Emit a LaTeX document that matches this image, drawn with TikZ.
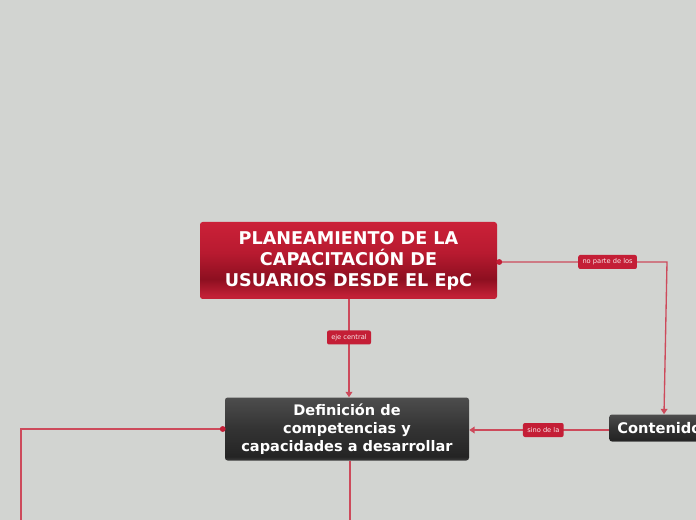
\documentclass[tikz,border=0pt]{standalone}
\usepackage{fontspec}
\setmainfont{DejaVu Sans}
\usetikzlibrary{arrows.meta,positioning,calc}
\definecolor{bg}{HTML}{D2D4D1}
\definecolor{lnk}{HTML}{CD4A5B}
\definecolor{lab}{HTML}{C41E36}
\definecolor{rA}{HTML}{CB2138}
\definecolor{rB}{HTML}{B81A30}
\definecolor{rC}{HTML}{8D0F20}
\definecolor{rD}{HTML}{C22036}
\definecolor{gA}{HTML}{4D4D4D}
\definecolor{gB}{HTML}{333333}
\definecolor{gC}{HTML}{242424}
\definecolor{gD}{HTML}{3C3C3C}
\pgfdeclareverticalshading{mainshade}{100bp}{color(0bp)=(rD); color(25bp)=(rD); color(27bp)=(rD); color(38bp)=(rC); color(55bp)=(rB); color(75bp)=(rA); color(100bp)=(rA)}
\pgfdeclareverticalshading{darkshade}{100bp}{color(0bp)=(gD); color(25bp)=(gD); color(28bp)=(gC); color(50bp)=(gB); color(75bp)=(gA); color(100bp)=(gA)}
\tikzset{
  mainbox/.style={shading=mainshade, rounded corners=2pt, text=white, font=\bfseries\fontsize{13.2}{15.6}\selectfont, align=center, inner sep=0pt},
  darkbox/.style={shading=darkshade, rounded corners=2pt, text=white, font=\bfseries\fontsize{10.9}{13.7}\selectfont, align=center, inner sep=0pt},
  lbl/.style={fill=lab, rounded corners=1.5pt, text=white!90!lab, font=\fontsize{5}{6}\selectfont, inner xsep=3.2pt, inner ysep=0pt, minimum height=10.5pt},
  conn/.style={draw=lnk, line width=1pt},
  tip/.style={-{Triangle[width=5pt,length=4pt]}},
  startdot/.style={fill=lab}
}
\begin{document}
\begin{tikzpicture}[x=0.75pt,y=-0.75pt]
\fill[bg] (0,0) rectangle (696,520);
\useasboundingbox (0,0) rectangle (696,520);
\clip (0,0) rectangle (696,520);

\node[mainbox, minimum width=297*0.75pt, minimum height=77*0.75pt] (main) at (348.5,260.5)
  {PLANEAMIENTO DE LA\\CAPACITACIÓN DE\\USUARIOS DESDE EL EpC};
\node[darkbox, minimum width=244*0.75pt, minimum height=63*0.75pt] (def) at (347,429)
  {Definición de\\competencias y\\capacidades a desarrollar};
\node[darkbox, anchor=west, font=\bfseries\fontsize{11}{13}\selectfont, inner xsep=6pt, minimum height=27*0.75pt, text width=90pt, align=left] (cont) at (609,428)
  {Contenidos};

\coordinate (cin) at ([xshift=41.25pt]cont.north west);
\coordinate (bend) at (667,262);
\coordinate (mstart) at (main.east |- bend);
\coordinate (cstart) at ([yshift=-1.5pt]cont.west);
\coordinate (leftdown) at (21,540);
\coordinate (downmid) at (350,540);

% main -> def
\draw[conn, tip] (main.south -| 349,0) -- (def.north -| 349,0)
  node[lbl, pos=0.39] {eje central};
% main -> contenidos
\draw[conn, tip] (mstart) -- (bend)
  node[lbl, pos=0.65] {no parte de los} -- (cin);
\fill[startdot] ([xshift=1.5pt]mstart) circle (2.2pt);
% contenidos -> def
\draw[conn, tip] (cstart) -- (cstart -| def.east)
  node[lbl, pos=0.47] {sino de la};
% def -> left (off page)
\draw[conn] (def.west) -- (21,429) -- (leftdown);
\fill[startdot] ([xshift=-1.5pt]def.west) circle (2.2pt);
% def -> down (off page)
\draw[conn] (def.south -| 350,0) -- (downmid);
\end{tikzpicture}
\end{document}
